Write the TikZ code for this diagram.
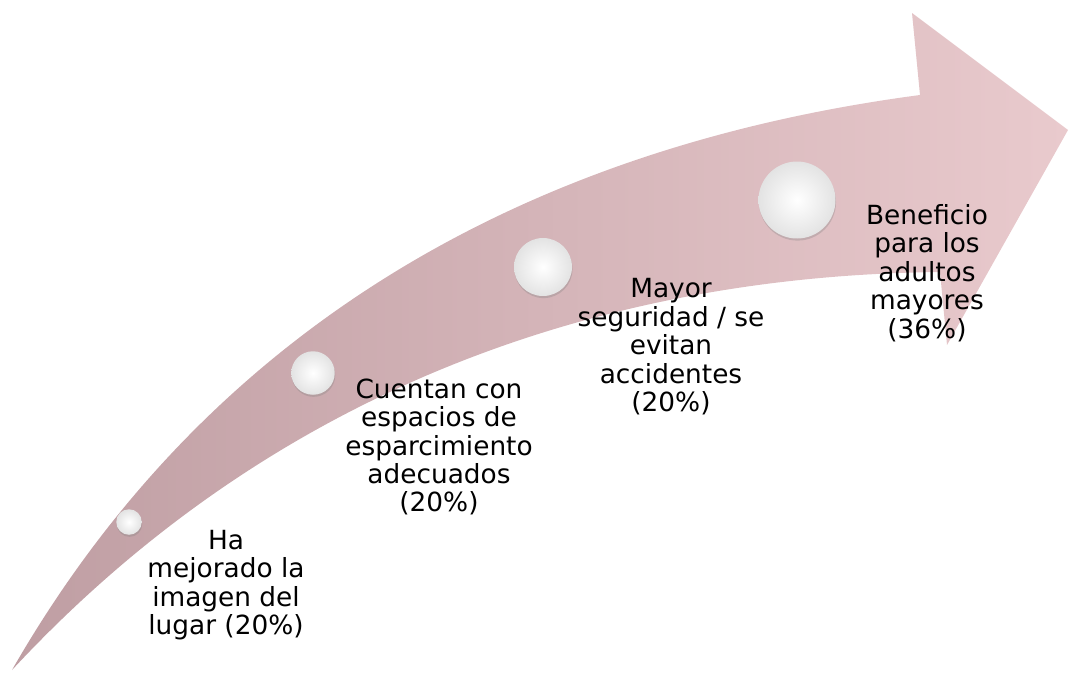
\documentclass[tikz,border=0pt]{standalone}
\usepackage{fontspec}
\setmainfont{DejaVu Sans}
\usetikzlibrary{shadows}
\definecolor{arrowdark}{HTML}{BF9EA3}
\definecolor{arrowlight}{HTML}{E9CACD}
\tikzset{
  ball/.style={circle,inner sep=0pt,shading=radial,inner color=white,outer color=gray!22,
    drop shadow={opacity=0.3,shadow xshift=0.3pt,shadow yshift=-1.2pt}},
  lbl/.style={align=center,font=\fontsize{15pt}{16.2pt}\selectfont,text=black}
}
\begin{document}
\begin{tikzpicture}[x=0.02cm,y=-0.02cm]
  \useasboundingbox (0,0) rectangle (1072,677);
  % curved arrow
  \shade[left color=arrowdark,right color=arrowlight]
    (12,670) .. controls (230,290) and (580,140) .. (920,95)
    -- (912,13) -- (1068,130) -- (947,345) -- (940,272)
    .. controls (650,275) and (300,360) .. cycle;
  % balls
  \node[ball,minimum size=0.51cm] (b1) at (129,522) {};
  \node[ball,minimum size=0.87cm] (b2) at (313,373) {};
  \node[ball,minimum size=1.16cm] (b3) at (543,267) {};
  \node[ball,minimum size=1.54cm] (b4) at (797,200) {};
  % labels
  \node[lbl] (t1) at (226,585) {Ha\\mejorado la\\imagen del\\lugar (20\%)};
  \node[lbl] (t2) at (439,447) {Cuentan con\\espacios de\\esparcimiento\\adecuados\\(20\%)};
  \node[lbl] (t3) at (671,347) {Mayor\\seguridad / se\\evitan\\accidentes\\(20\%)};
  \node[lbl] (t4) at (927,273) {Beneficio\\para los\\adultos\\mayores\\(36\%)};
\end{tikzpicture}
\end{document}
